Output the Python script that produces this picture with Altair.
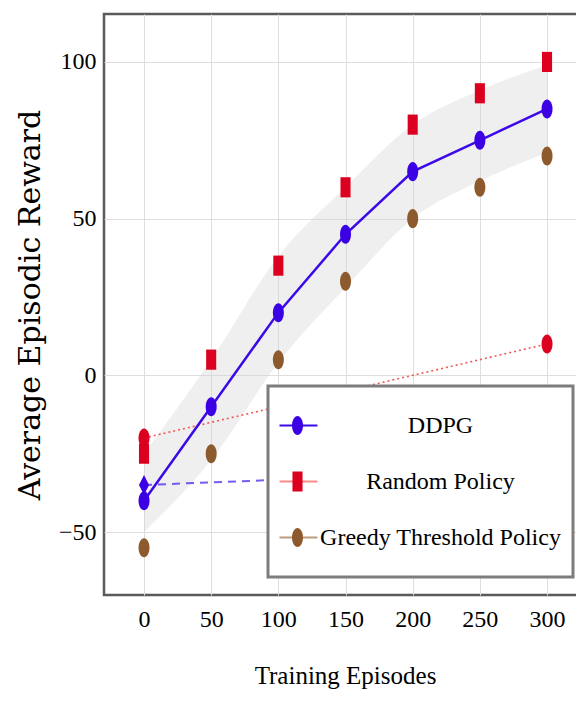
import altair as alt
import pandas as pd

# ---------------- data ----------------
episodes = [0, 50, 100, 150, 200, 250, 300]
ddpg = [-40, -10, 20, 45, 65, 75, 85]
random_policy = [-25, 5, 35, 60, 80, 90, 100]
greedy = [-55, -25, 5, 30, 50, 60, 70]
band_upper = [-25, 5, 38, 60, 80, 91, 99]
band_lower = [-50, -27, 4, 28, 50, 62, 71]

random_trend_x = [0, 300]
random_trend_y = [-20, 10]
ddpg_trend_x = [0, 300]
ddpg_trend_y = [-35, -30]

series_names = ["DDPG", "Random Policy", "Greedy Threshold Policy"]
x_ticks = [0, 50, 100, 150, 200, 250, 300]
y_ticks = [-50, 0, 50, 100]

# ---------------- styles ----------------
BLUE = "#3c00e4"
RED = "#dc0020"
BROWN = "#8c5a2c"
legend_line_colors = ["#3c0ae8", "#ff8a8a", "#bb9c7e"]
marker_colors = [BLUE, RED, BROWN]
FONT = "Liberation Serif"
SYM = 3136  # symbol area -> 56 px box, 28 px per path unit


def ellipse(rx, ry):
    return f"M{-rx},0A{rx},{ry} 0 1,0 {rx},0A{rx},{ry} 0 1,0 {-rx},0Z"


def rect(hx, hy):
    return f"M{-hx},{-hy}L{hx},{-hy}L{hx},{hy}L{-hx},{hy}Z"


ELL = ellipse(0.196, 0.34)
RECT = rect(0.18, 0.36)
DIAMOND = "M0,-0.36L0.18,0L0,0.36L-0.18,0Z"
LINE_SYM = "M-1.07,0L0.32,0"
marker_paths = [ELL, RECT, ELL]

# ---------------- tables ----------------
df_main = pd.DataFrame({"ep": episodes, "ddpg": ddpg, "lower": band_lower,
                        "upper": band_upper, "series": series_names[0]})
mk_domain = ["m:" + n for n in series_names]
df_pts = pd.concat([
    pd.DataFrame({"ep": episodes, "val": ddpg, "mk": mk_domain[0]}),
    pd.DataFrame({"ep": episodes, "val": random_policy, "mk": mk_domain[1]}),
    pd.DataFrame({"ep": episodes, "val": greedy, "mk": mk_domain[2]}),
])
df_rand = pd.DataFrame({"ep": random_trend_x, "val": random_trend_y})
df_dtr = pd.DataFrame({"ep": ddpg_trend_x, "val": ddpg_trend_y})

xscale = alt.Scale(domain=[-29.78, 329.0], nice=False, zero=False)
yscale = alt.Scale(domain=[-70.1, 115.3], nice=False, zero=False)

x_axis = alt.Axis(values=x_ticks, title="Training Episodes", grid=True, ticks=False, domain=False,
                  labelPadding=12, titlePadding=32, labelFontSize=24, titleFontSize=25)
y_axis = alt.Axis(values=y_ticks, title="Average Episodic Reward", grid=True, ticks=False, domain=False,
                  labelPadding=8, titlePadding=13, labelFontSize=24, titleFontSize=30,
                  titleFont="DejaVu Serif", titleFontWeight="normal")


def X():
    return alt.X("ep:Q", scale=xscale, axis=x_axis, title="Training Episodes")


def Y(field):
    return alt.Y(field, scale=yscale, axis=y_axis, title="Average Episodic Reward")


band = alt.Chart(df_main).mark_area(color="#d6d6d6", opacity=0.38, interpolate="monotone").encode(
    x=X(), y=Y("lower:Q"), y2="upper:Q",
)

rand_line = alt.Chart(df_rand).mark_line(color="#f03a3a", strokeWidth=1.6, strokeDash=[2, 3],
                                         opacity=0.85).encode(x=X(), y=Y("val:Q"))
rand_end = alt.Chart(df_rand).mark_point(shape=ELL, size=SYM, filled=True, color=RED,
                                         opacity=1).encode(x=X(), y=Y("val:Q"))

dtr_line = alt.Chart(df_dtr).mark_line(color="#5a40f0", strokeWidth=2, strokeDash=[8, 6],
                                       opacity=0.85).encode(x=X(), y=Y("val:Q"))
dtr_end = alt.Chart(df_dtr).transform_filter(alt.datum.ep == 0).mark_point(
    shape=DIAMOND, size=SYM, filled=True, color=BLUE, opacity=1).encode(x=X(), y=Y("val:Q"))

legend_lines = alt.Legend(
    orient="none", legendX=164, legendY=372, title=None,
    symbolType=LINE_SYM, symbolSize=SYM, symbolStrokeWidth=2,
    labelFont=FONT, labelFontSize=24, labelColor="black", labelAlign="center",
    labelOffset=103, labelLimit=400, rowPadding=0, padding=11.5, clipHeight=56,
    fillColor="white", strokeColor="#7d7d7d",
)
main_line = alt.Chart(df_main).mark_line(strokeWidth=2.5).encode(
    x=X(), y=Y("ddpg:Q"),
    stroke=alt.Stroke("series:N", scale=alt.Scale(domain=series_names, range=legend_line_colors),
                      legend=legend_lines),
)

legend_marks = alt.Legend(
    orient="none", legendX=153, legendY=372, title=None,
    symbolSize=SYM, symbolStrokeWidth=2, symbolStrokeColor="transparent", symbolOpacity=1,
    labelFont=FONT, labelFontSize=24, labelExpr="''", labelLimit=400,
    rowPadding=0, padding=11.5, clipHeight=56,
)
points = alt.Chart(df_pts).mark_point(size=SYM, filled=True, opacity=1, strokeWidth=0).encode(
    x=X(), y=Y("val:Q"),
    fill=alt.Fill("mk:N", scale=alt.Scale(domain=mk_domain, range=marker_colors), legend=legend_marks),
    shape=alt.Shape("mk:N", scale=alt.Scale(domain=mk_domain, range=marker_paths), legend=legend_marks),
)

chart = alt.layer(band, rand_line, rand_end, dtr_line, dtr_end, main_line, points).properties(
    width=482, height=581,
    autosize=alt.AutoSizeParams(type="none"),
    padding={"left": 96, "top": 6, "right": -10, "bottom": 106},
).configure_view(stroke="#5a5a5a", strokeWidth=2.5).configure_axis(
    gridColor="#dedede", gridWidth=1,
    labelFont=FONT, titleFont=FONT, labelColor="black", titleColor="black",
    titleFontWeight="normal",
).configure_legend(strokeWidth=3)

chart.save("out.html", embed_options={"renderer": "svg", "actions": False})
